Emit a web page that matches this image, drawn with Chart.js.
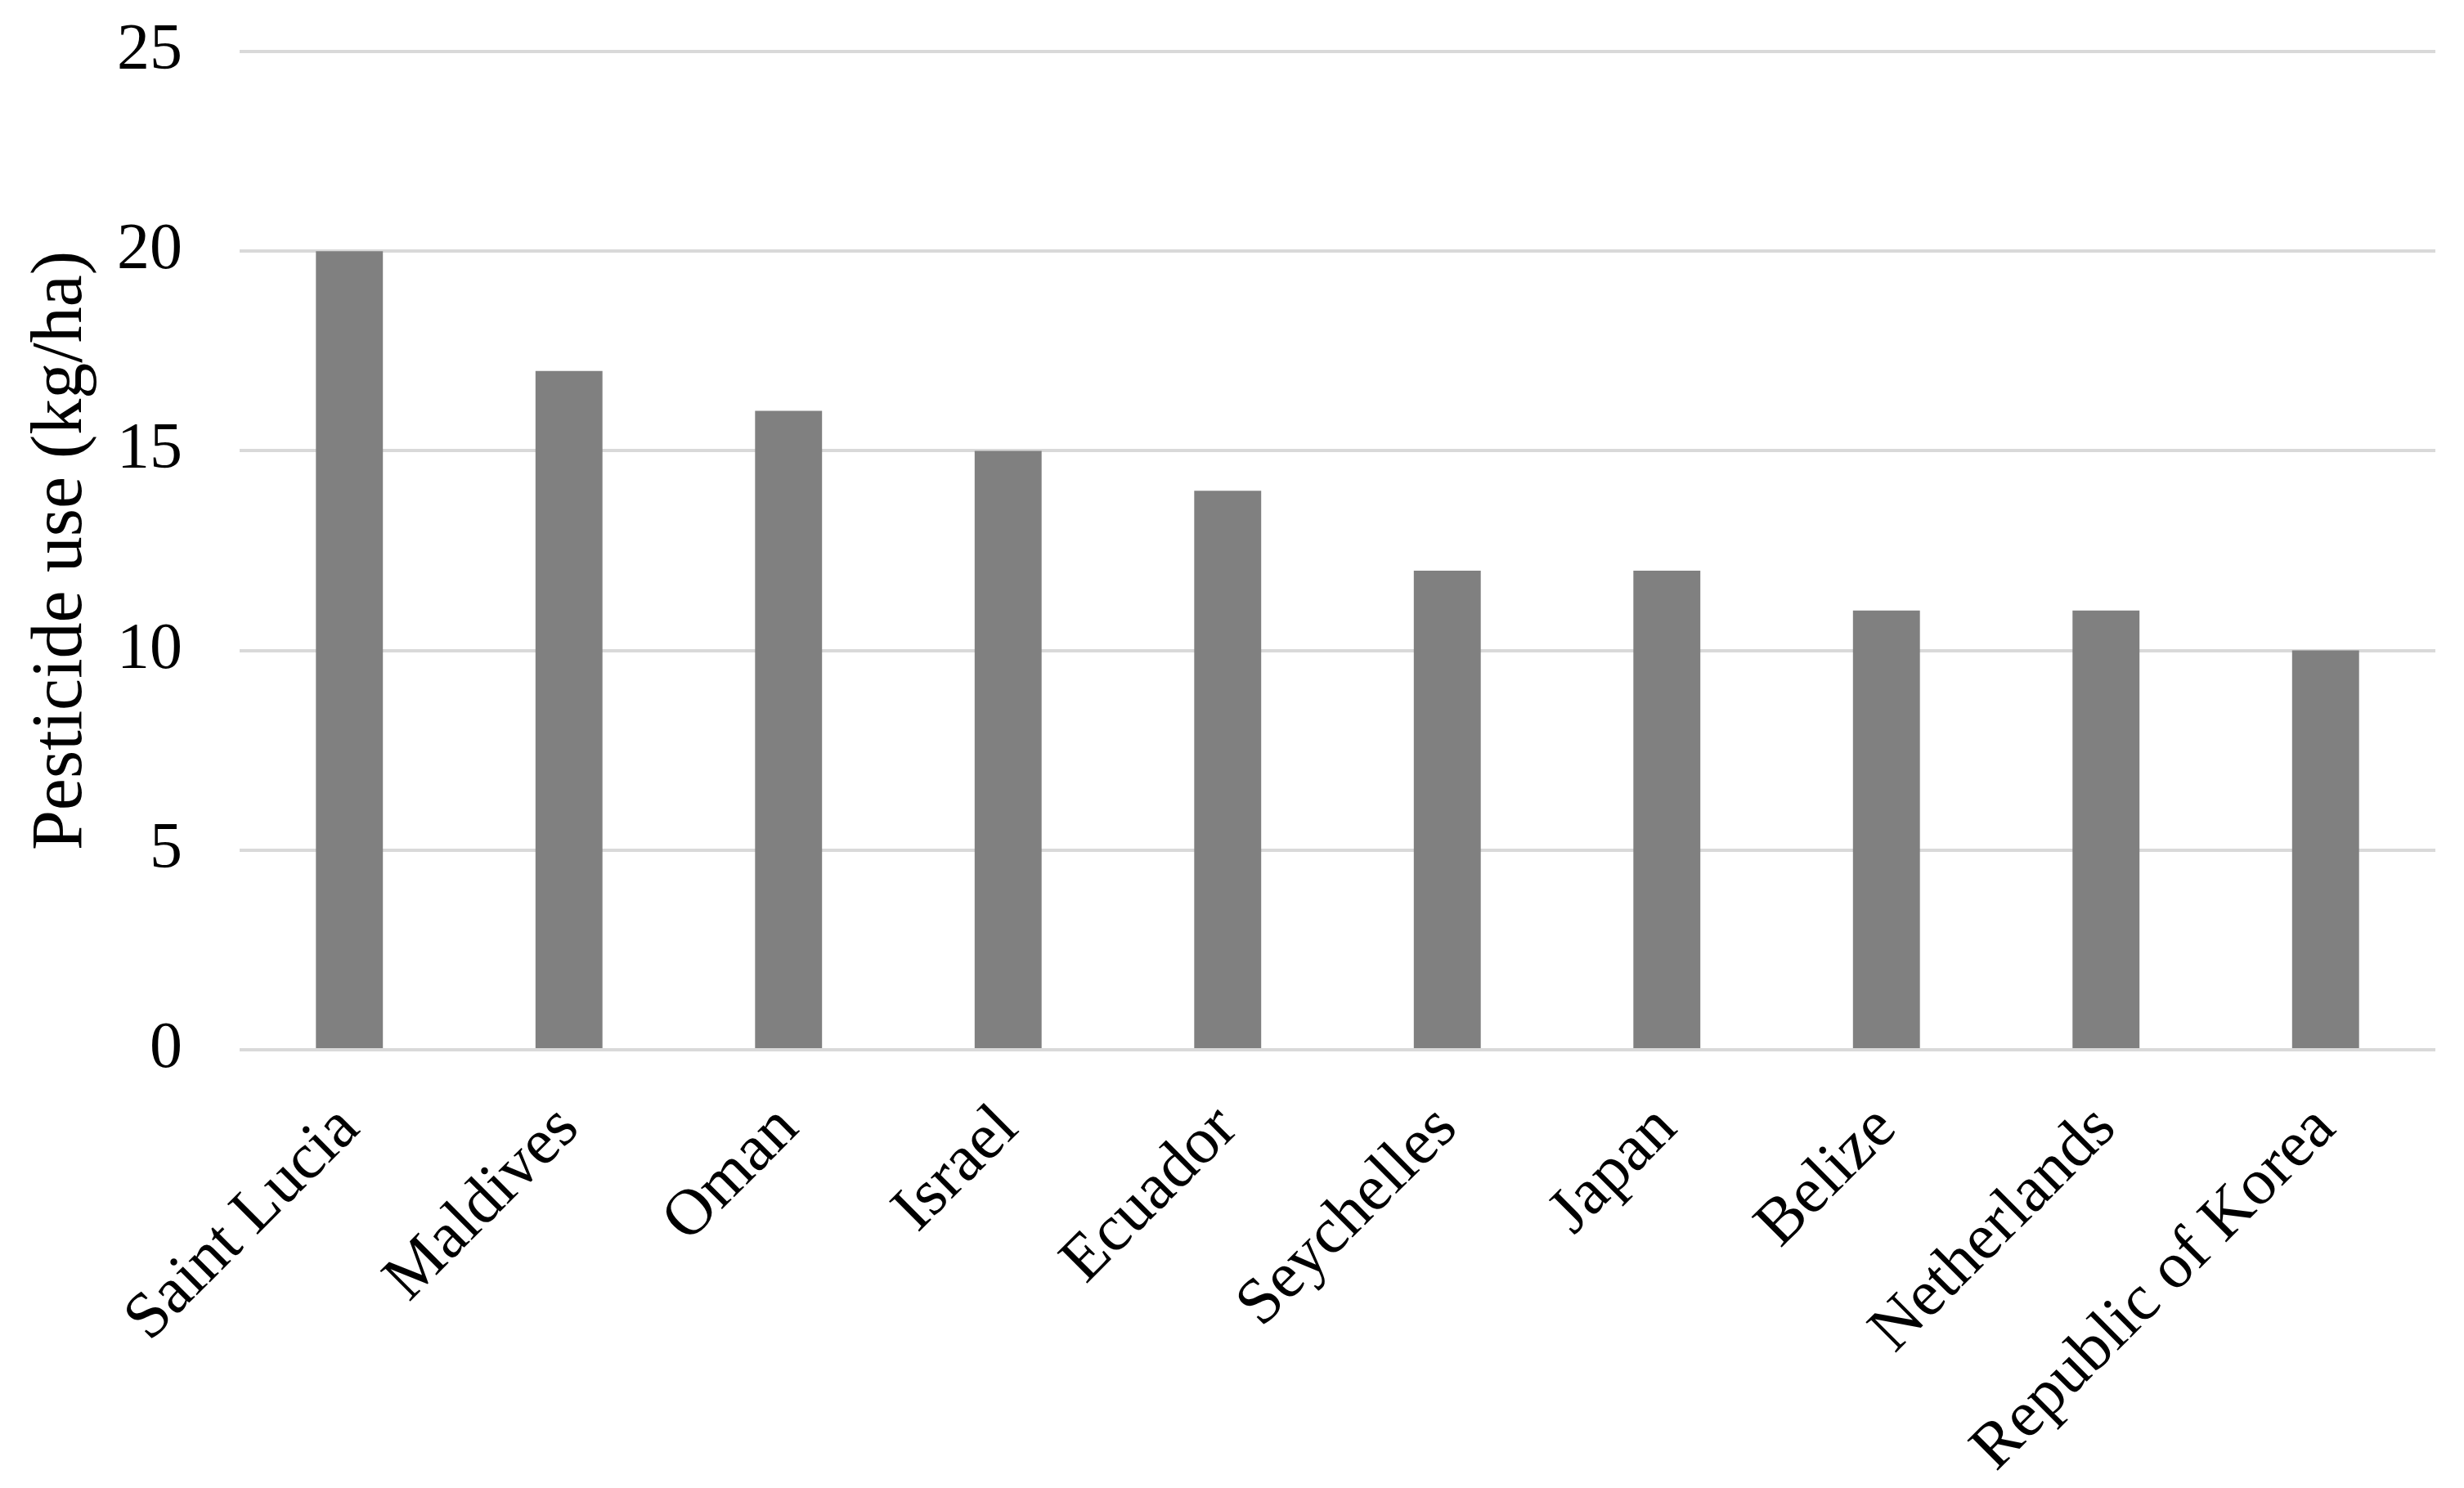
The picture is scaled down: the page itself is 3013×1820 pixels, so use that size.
<!DOCTYPE html>
<html>
<head>
<meta charset="utf-8">
<script src="https://cdn.jsdelivr.net/npm/chart.js@4"></script>
<style>
  html, body { margin: 0; padding: 0; background: #fff; }
  #wrap { width: 3013px; height: 1820px; }
</style>
</head>
<body>
<div id="wrap"><canvas id="chart" width="3013" height="1820"></canvas></div>
<script>
const countries = ["Saint Lucia", "Maldives", "Oman", "Israel", "Ecuador",
  "Seychelles", "Japan", "Belize", "Netherlands", "Republic of Korea"];
const pesticideUse = [20, 17, 16, 15, 14, 12, 12, 11, 11, 10];
const yTicks = [0, 5, 10, 15, 20, 25];

const serif = "'Liberation Serif', 'Times New Roman', serif";

// keep the plot box where the reference has it
function noPad(scale) {
  scale.paddingTop = 0;
  scale.paddingBottom = 0;
  scale.paddingLeft = 0;
  scale.paddingRight = 0;
}

new Chart(document.getElementById("chart"), {
  type: "bar",
  data: {
    labels: countries,
    datasets: [{
      data: pesticideUse,
      backgroundColor: "#808080",
      borderWidth: 0,
      barPercentage: 0.305,
      categoryPercentage: 1
    }]
  },
  options: {
    responsive: false,
    animation: false,
    devicePixelRatio: 1,
    layout: { padding: { top: 63, right: 35, bottom: 0, left: 0 } },
    plugins: { legend: { display: false }, tooltip: { enabled: false } },
    scales: {
      x: {
        grid: { display: false, drawTicks: false },
        border: { display: false },
        ticks: {
          minRotation: 45,
          maxRotation: 45,
          autoSkip: false,
          padding: 50,
          color: "#000",
          font: { family: serif, size: 80 }
        },
        afterFit: function (scale) {
          scale.height = 536;
          noPad(scale);
        }
      },
      y: {
        min: 0,
        max: 25,
        afterBuildTicks: function (scale) {
          scale.ticks = yTicks.map(v => ({ value: v }));
        },
        grid: { color: "#d9d9d9", lineWidth: 4, drawTicks: false },
        border: { display: false },
        ticks: {
          padding: 70,
          color: "#000",
          font: { family: serif, size: 80 }
        },
        title: {
          display: true,
          text: "Pesticide use (kg/ha)",
          color: "#000",
          font: { family: serif, size: 88 },
          padding: { top: 23, bottom: 0 }
        },
        afterFit: function (scale) {
          scale.width = 293;
          noPad(scale);
        }
      }
    }
  }
});
</script>
</body>
</html>
